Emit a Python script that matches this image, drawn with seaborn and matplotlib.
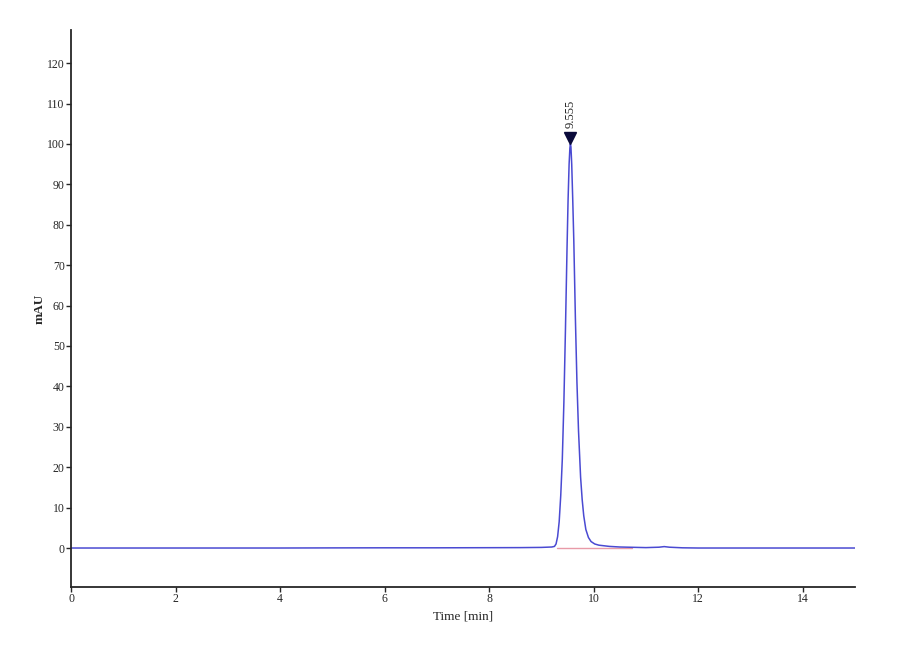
import pandas as pd
import seaborn as sns
import matplotlib.pyplot as plt

time_min = [0, 1, 2, 3, 4, 5, 6, 7, 8, 8.6, 9.0, 9.2, 9.25, 9.28, 9.31, 9.34, 9.37, 9.40,
            9.43, 9.46, 9.49, 9.51, 9.53, 9.545, 9.555, 9.565, 9.58, 9.60, 9.62, 9.65,
            9.68, 9.71, 9.75, 9.78, 9.81, 9.85, 9.90, 9.95, 10.02, 10.1, 10.3, 10.5,
            11.0, 11.25, 11.35, 11.45, 11.7, 12, 13, 14, 15]
mau = [0.0, 0.0, 0.0, 0.0, 0.0, 0.03, 0.05, 0.05, 0.08, 0.1, 0.15, 0.25, 0.4, 1.0, 2.8, 6.5, 13, 22,
       36, 54, 74, 86, 95, 99, 100, 99.3, 95, 86, 76, 57,
       41, 29, 17.5, 12, 8, 4.6, 2.6, 1.6, 1.0, 0.7, 0.4, 0.25,
       0.1, 0.2, 0.35, 0.2, 0.05, 0.0, 0.0, 0.0, 0.0]

peak_time = 9.555
peak_height = 100
baseline_start = 9.29
baseline_end = 10.73

df = pd.DataFrame({'Time': time_min, 'mAU': mau})

sns.set_style('ticks')
plt.rcParams['font.family'] = ['Liberation Serif', 'DejaVu Serif']

fig = plt.figure(figsize=(9, 6.6), dpi=100)
ax = fig.add_axes([0.0789, 0.1106, 0.8711, 0.8439])

# linha de base da integração
ax.plot([baseline_start, baseline_end], [0.05, 0.05], color='#e89aa8', lw=1.0, zorder=1)

sns.lineplot(data=df, x='Time', y='mAU', ax=ax, color='#4a4ad2', lw=1.1, zorder=2)

# marcador do pico
ax.plot([peak_time], [peak_height + 1.5], marker='v', color='#0a0a3a', markersize=8,
        linestyle='none', zorder=3)
ax.text(peak_time, peak_height + 4.0, f'{peak_time:.3f}', rotation=90, ha='center',
        va='bottom', fontsize=9, color='#222222')

ax.set_xlim(0, 15)
ax.set_ylim(-9.65, 128.2)
ax.set_xticks(range(0, 15, 2))
ax.set_yticks(range(0, 121, 10))
ax.tick_params(axis='both', labelsize=8.5, length=3.5, width=1, direction='out', pad=1)

sns.despine(ax=ax)
for s in ['left', 'bottom']:
    ax.spines[s].set_linewidth(1.3)

ax.set_xlabel('Time [min]', fontsize=9.5, labelpad=4)
ax.set_ylabel('mAU', fontsize=9.5, fontweight='bold')
ax.yaxis.set_label_coords(-0.033, 0.5)

fig.savefig('out.png', dpi=100)
